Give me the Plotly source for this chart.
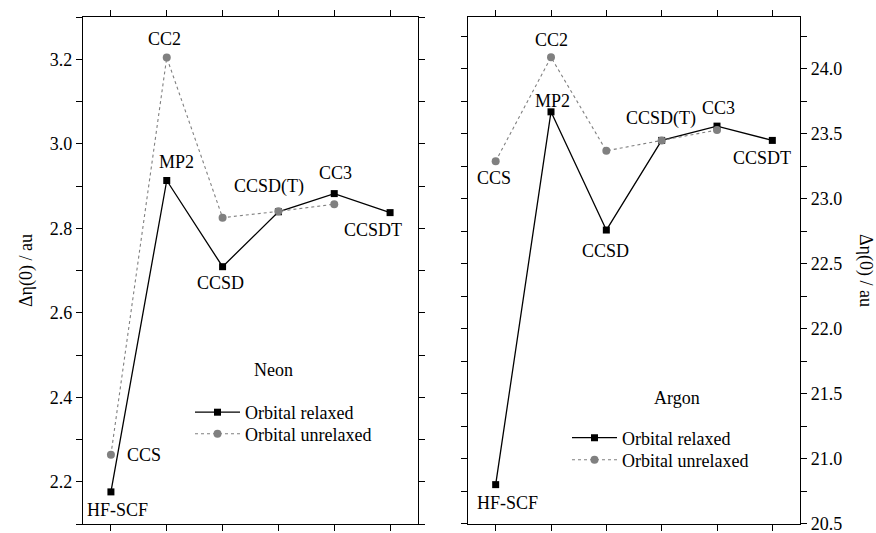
import plotly.graph_objects as go

# Methods along the x axis (positions 1..6)
relaxed_methods = ["HF-SCF", "MP2", "CCSD", "CCSD(T)", "CC3", "CCSDT"]
unrelaxed_methods = ["CCS", "CC2", "CCSD", "CCSD(T)", "CC3"]
relaxed_pos = [1, 2, 3, 4, 5, 6]
unrelaxed_pos = [1, 2, 3, 4, 5]

# Neon, Δη(0) in au
neon_relaxed = [2.176, 2.913, 2.709, 2.839, 2.882, 2.837]
neon_unrelaxed = [2.264, 3.204, 2.825, 2.840, 2.857]

# Argon, Δη(0) in au
argon_relaxed = [20.80, 23.67, 22.76, 23.45, 23.56, 23.45]
argon_unrelaxed = [23.29, 24.09, 23.37, 23.45, 23.53]

FONT = "'Liberation Serif', 'DejaVu Serif', 'Times New Roman', serif"
FS = 18
GREY = "#808080"

fig = go.Figure()

def add_panel(xa, ya, rel, unrel, leg_rel, leg_unrel):
    fig.add_trace(go.Scatter(
        x=relaxed_pos, y=rel, mode="lines+markers", name="Orbital relaxed",
        line=dict(color="black", width=1.3),
        marker=dict(symbol="square", size=7, color="black"),
        xaxis=xa, yaxis=ya, legend=leg_rel))
    fig.add_trace(go.Scatter(
        x=unrelaxed_pos, y=unrel, mode="lines+markers", name="Orbital unrelaxed",
        line=dict(color=GREY, width=1.1, dash="dot"),
        marker=dict(symbol="circle", size=8, color=GREY),
        xaxis=xa, yaxis=ya, legend=leg_unrel))

add_panel("x", "y", neon_relaxed, neon_unrelaxed, "legend", "legend3")
add_panel("x2", "y2", argon_relaxed, argon_unrelaxed, "legend2", "legend4")

def label(xa, ya, x, y, text, dx, dy, anchor="center"):
    fig.add_annotation(x=x, y=y, xref=xa, yref=ya, text=text, showarrow=False,
                       xshift=dx, yshift=dy, xanchor=anchor, yanchor="middle",
                       font=dict(family=FONT, size=FS, color="black"))

# Neon point labels
label("x", "y", relaxed_pos[0], neon_relaxed[0], relaxed_methods[0], 7, -18)
label("x", "y", unrelaxed_pos[0], neon_unrelaxed[0], unrelaxed_methods[0], 14, 0, "left")
label("x", "y", unrelaxed_pos[1], neon_unrelaxed[1], unrelaxed_methods[1], -2, 19)
label("x", "y", relaxed_pos[1], neon_relaxed[1], relaxed_methods[1], 10, 19)
label("x", "y", relaxed_pos[2], neon_relaxed[2], relaxed_methods[2], -2, -16)
label("x", "y", relaxed_pos[3], neon_relaxed[3], relaxed_methods[3], -9, 25)
label("x", "y", relaxed_pos[4], neon_relaxed[4], relaxed_methods[4], 1, 21)
label("x", "y", relaxed_pos[5], neon_relaxed[5], relaxed_methods[5], -17, -17)

# Argon point labels
label("x2", "y2", relaxed_pos[0], argon_relaxed[0], relaxed_methods[0], 12, -18)
label("x2", "y2", unrelaxed_pos[0], argon_unrelaxed[0], unrelaxed_methods[0], -2, -17)
label("x2", "y2", unrelaxed_pos[1], argon_unrelaxed[1], unrelaxed_methods[1], 0, 17)
label("x2", "y2", relaxed_pos[1], argon_relaxed[1], relaxed_methods[1], 1, 11)
label("x2", "y2", relaxed_pos[2], argon_relaxed[2], relaxed_methods[2], -1, -21)
label("x2", "y2", relaxed_pos[3], argon_relaxed[3], relaxed_methods[3], -1, 22)
label("x2", "y2", relaxed_pos[4], argon_relaxed[4], relaxed_methods[4], 1, 18)
label("x2", "y2", relaxed_pos[5], argon_relaxed[5], relaxed_methods[5], -10, -18)

def paper_text(px, py, text, angle=0):
    fig.add_annotation(x=px / 876, y=1 - py / 533, xref="paper", yref="paper",
                       text=text, showarrow=False, textangle=angle,
                       xanchor="center", yanchor="middle",
                       font=dict(family=FONT, size=FS, color="black"))

# Panel names
paper_text(273, 370, "Neon")
paper_text(677, 398, "Argon")

# Axis titles
paper_text(26, 271, "Δη(0) / au", -90)
paper_text(866, 270, "Δη(0) / au", 90)

xcommon = dict(range=[0.5, 6.5], tickvals=relaxed_pos, showticklabels=False,
               ticks="outside", ticklen=6, tickwidth=1, tickcolor="black",
               showline=True, linecolor="black", linewidth=1.2, mirror="ticks",
               showgrid=False, zeroline=False, automargin=False)
ycommon = dict(ticks="outside", ticklen=6, tickwidth=1, tickcolor="black",
               showline=True, linecolor="black", linewidth=1.2, mirror="ticks",
               showgrid=False, zeroline=False, ticklabeloverflow="allow",
               automargin=False,
               tickfont=dict(family=FONT, size=FS, color="black"))

ydom = [1 - 524 / 533, 1 - 17 / 533]

def legend_at(px, py):
    return dict(x=px / 876, y=1 - py / 533, xanchor="left", yanchor="top",
                bgcolor="rgba(0,0,0,0)", itemwidth=45,
                font=dict(family=FONT, size=FS, color="black"))

fig.update_layout(
    width=876, height=533,
    margin=dict(l=0, r=0, t=0, b=0),
    paper_bgcolor="white", plot_bgcolor="white",
    font=dict(family=FONT, size=FS, color="black"),
    xaxis=dict(domain=[83 / 876, 418 / 876], anchor="y", **xcommon),
    xaxis2=dict(domain=[468 / 876, 800 / 876], anchor="y2", **xcommon),
    yaxis=dict(domain=ydom, anchor="x", range=[2.1, 3.3], dtick=0.2, tick0=2.2,
               tickformat=".1f",
               minor=dict(dtick=0.1, ticks="outside", ticklen=6, tickcolor="black",
                          showgrid=False),
               **ycommon),
    yaxis2=dict(domain=ydom, anchor="x2", side="right", range=[20.497, 24.4],
                dtick=0.5, tick0=20.5, tickformat=".1f",
                minor=dict(dtick=0.25, ticks="outside", ticklen=6, tickcolor="black",
                           showgrid=False),
                **ycommon),
    legend=legend_at(190, 394),
    legend3=legend_at(190, 415.5),
    legend2=legend_at(567, 419.5),
    legend4=legend_at(567, 441.5),
    showlegend=True,
)

fig.write_html("out.html")
